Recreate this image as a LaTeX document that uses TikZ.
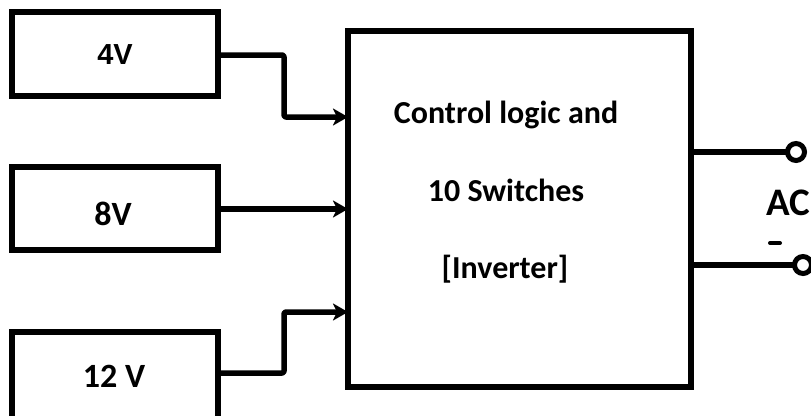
\documentclass[tikz,border=0pt]{standalone}
\usepackage{fontspec}
\setmainfont{Carlito}
\newfontfamily\arialfont{Liberation Sans}
\usetikzlibrary{arrows.meta}
\tikzset{
  x=1pt, y=-1pt,
  srcbox/.style={draw, line width=5.5pt, minimum width=206pt, inner sep=0pt, outer sep=0pt},
  mainbox/.style={draw, line width=5.5pt, minimum width=343pt, minimum height=356pt, inner sep=0pt, outer sep=0pt},
  lbl/.style={font=\bfseries\fontsize{32}{32}\selectfont, anchor=base, inner sep=0pt},
  biglbl/.style={font=\bfseries\fontsize{34}{34}\selectfont, anchor=base, inner sep=0pt},
  arr/.style={line width=5.5pt, rounded corners=2pt, line join=round, -{Stealth[length=15pt,width=17pt,inset=4pt]}},
  wire/.style={line width=5.5pt},
  term/.style={circle, draw, line width=5pt, minimum size=17pt, inner sep=0pt, outer sep=0pt, fill=white},
}
\begin{document}
\begin{tikzpicture}
\useasboundingbox (0,0) rectangle (811,415);
\clip (0,0) rectangle (811,415);
% source boxes
\node[srcbox, minimum height=84pt] (v4) at (115,54) {};
\node[srcbox, minimum height=83pt] (v8) at (115,208.5) {};
\node[srcbox, minimum height=88pt] (v12) at (115,376) {};
\node[font=\arialfont\bfseries\fontsize{29}{29}\selectfont, anchor=base, inner sep=0pt] (t4) at (115,64) {4V};
\node[biglbl] (t8) at (113,225) {8V};
\node[biglbl] (t12) at (114,387) {12 V};
% main block
\node[mainbox] (main) at (519.5,209) {};
\node[lbl] (c1) at (506,123) {Control logic and};
\node[lbl] (c2) at (506,201) {10 Switches};
\node[lbl] (c3) at (505,278) {[Inverter]};
% connectors
\draw[arr] (v4.east |- 0,55) -- (284,55) |- (main.west |- 0,117);
\draw[arr] (v8.east |- 0,209) -- (main.west |- 0,209);
\draw[arr] (v12.east |- 0,373) -- (284,373) |- (main.west |- 0,312);
% outputs
\node[term] (o1) at (796,152) {};
\node[term] (o2) at (803,265) {};
\draw[wire] (main.east |- o1) -- (o1.west);
\draw[wire] (main.east |- o2) -- (o2.west);
\node[font=\bfseries\fontsize{39}{39}\selectfont, anchor=base west, inner sep=0pt] (ac) at (766,215) {AC};
\draw[line width=4pt, line cap=round] (770,243) -- (780,243);
\end{tikzpicture}
\end{document}
